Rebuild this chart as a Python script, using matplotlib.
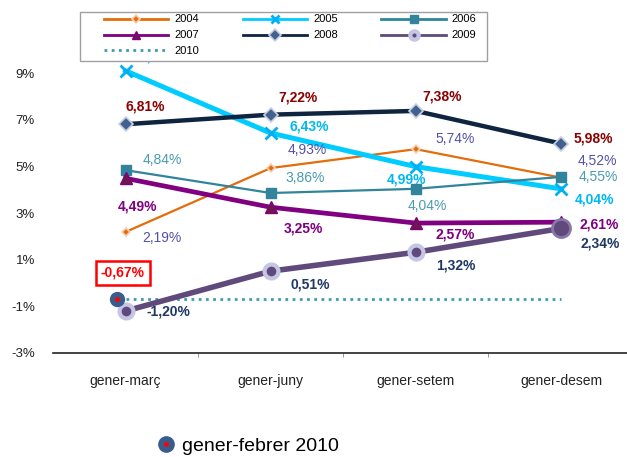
import numpy as np
import matplotlib.pyplot as plt
from matplotlib.lines import Line2D
from matplotlib.patches import Rectangle
from matplotlib.legend_handler import HandlerTuple

plt.rcParams['font.family'] = ['Liberation Sans', 'DejaVu Sans']

# periods on the x axis
periods = ['gener-març', 'gener-juny', 'gener-setem', 'gener-desem']

# cumulative variation (%) per year
v2004 = [2.19, 4.93, 5.74, 4.52]
v2005 = [9.10, 6.43, 4.99, 4.04]
v2006 = [4.84, 3.86, 4.04, 4.55]
v2007 = [4.49, 3.25, 2.57, 2.61]
v2008 = [6.81, 7.22, 7.38, 5.98]
v2009 = [-1.20, 0.51, 1.32, 2.34]
v2010 = [-0.67, -0.67, -0.67, -0.67]
febrer2010 = -0.67

yticks = [-3, -1, 1, 3, 5, 7, 9]


def pct(v):
	return '{0:.2f}%'.format(v).replace('.', ',')


fig = plt.figure(figsize=(6.27, 4.57), dpi=100)
ax = fig.add_axes([0.0845, 0.2276, 0.9155, 0.7144])
x = np.arange(len(periods))

# style per series: line style, label colour, bold, label offsets (px)
series = [
	('2004', v2004, dict(color='#E46C0A', lw=1.6, marker='D', ms=4.5, mfc='#E46C0A', mec='#F6D2B4', mew=1.2),
	 '#5352A8', False, [(36, -6), (37, 18), (39, 10), (36, 17)]),
	('2005', v2005, dict(color='#00CCFF', lw=3.6, marker='x', ms=8, mec='#00B0F0', mew=2),
	 '#00B8F0', True, [(34, 14), (39, 7), (-9, -13), (34, -11)]),
	('2006', v2006, dict(color='#31849B', lw=1.6, marker='s', ms=7, mfc='#31849B', mec='#31849B'),
	 '#4A9BB0', False, [(37, 10), (34, 15), (11, -17), (37, 0)]),
	('2007', v2007, dict(color='#800080', lw=3.4, marker='^', ms=9, mfc='#6B1A4A', mec='#800080'),
	 '#800080', True, [(12, -28), (33, -21), (39, -11), (38, -2)]),
	('2008', v2008, dict(color='#0F243E', lw=3.2, marker='D', ms=7, mfc='#41618F', mec='#C8D0E2', mew=1.2),
	 '#8B0000', True, [(20, 18), (27, 17), (26, 14), (32, 5)]),
	('2009', v2009, dict(color='#604A7B', lw=4, marker='o', ms=10, mfc='#604A7B', mec='#C5C5E5', mew=3),
	 '#1F3864', True, [(43, 0), (40, -13), (40, -13), (39, -15)]),
]

for name, vals, style, lcol, bold, offs in series:
	ax.plot(x, vals, zorder=3, **style)
	for xi, v, off in zip(x, vals, offs):
		ax.annotate(pct(v), (xi, v), xytext=off, textcoords='offset pixels',
					ha='center', va='center', fontsize=10, color=lcol,
					fontweight='bold' if bold else 'normal', zorder=5)

# last 2009 point is drawn bigger
ax.plot(x[-1:], v2009[-1:], 'o', ms=13, mfc='#604A7B', mec='#8878A8', mew=2, zorder=4)

ax.plot(x, v2010, color='#3E9BB0', lw=2, ls=(0, (1, 1.6)), zorder=2)

# single point gener-febrer 2010
ax.plot([x[0] - 0.06], [febrer2010], 'o', ms=10, mfc='#3A5C8C', mec='#3A5C8C', zorder=6, clip_on=False)
ax.plot([x[0] - 0.06], [febrer2010], 'o', ms=2.5, color='red', zorder=7, clip_on=False)
ax.annotate(pct(febrer2010), (x[0] - 0.06, febrer2010), xytext=(6, 26), textcoords='offset pixels',
			ha='center', va='center', fontsize=10, color='red', fontweight='bold', zorder=7,
			bbox=dict(boxstyle='square,pad=0.35', fc='white', ec='red', lw=1.8))

ax.set_xlim(-0.5, 3.455)
ax.set_ylim(-3, 11)
ax.set_yticks(yticks)
ax.set_yticklabels(['{0}%'.format(t) for t in yticks], fontsize=9.5, color='#222222')
ax.set_xticks(x)
ax.set_xticklabels(periods, fontsize=10, color='#222222')
ax.set_xticks(x[:-1] + 0.5, minor=True)
ax.tick_params(axis='x', which='major', length=0, pad=15)
ax.tick_params(axis='x', which='minor', length=3, width=0.6, color='#888888', direction='out')
ax.tick_params(axis='y', length=0, pad=13)
for s in ['top', 'right', 'left']:
	ax.spines[s].set_visible(False)
ax.spines['bottom'].set_color('#222222')
ax.spines['bottom'].set_linewidth(1.2)


# top legend with thin lines, box drawn separately
def proxy(style, **kw):
	st = dict(style)
	st['lw'] = 2
	st.update(kw)
	return Line2D([0], [0], **st)


hmap = {name: proxy(style, ms=min(style.get('ms', 6), 6)) for name, vals, style, lcol, bold, offs in series}
hmap['2010'] = Line2D([0], [0], color='#3E9BB0', lw=2, ls=(0, (1, 1.6)))
order = ['2004', '2007', '2010', '2005', '2008', '2006', '2009']

box = Rectangle((80 / 627, 1 - 61 / 457), 407 / 627, 49 / 457, transform=fig.transFigure,
				fc='white', ec='#A0A0A0', lw=1, zorder=8)
fig.add_artist(box)
leg = fig.legend([hmap[n] for n in order], order, loc='upper left', bbox_to_anchor=(104 / 627, 1 - 14.5 / 457),
				 ncol=3, fontsize=8, handlelength=5.8, handletextpad=0.55, columnspacing=3.9,
				 labelspacing=0.53, frameon=False, borderpad=0, borderaxespad=0)
leg.set_zorder(10)

dot = Line2D([0], [0], marker='o', ls='', ms=11, mfc='#3A5C8C', mec='#3A5C8C')
reddot = Line2D([0], [0], marker='o', ls='', ms=2.5, color='red')
fig.legend([(dot, reddot)], ['gener-febrer 2010'], loc='center left', bbox_to_anchor=(0.222, 0.023),
		   frameon=False, fontsize=14, handlelength=1, handletextpad=0.3,
		   handler_map={tuple: HandlerTuple(ndivide=1)})

fig.savefig('out.png', dpi=100)
